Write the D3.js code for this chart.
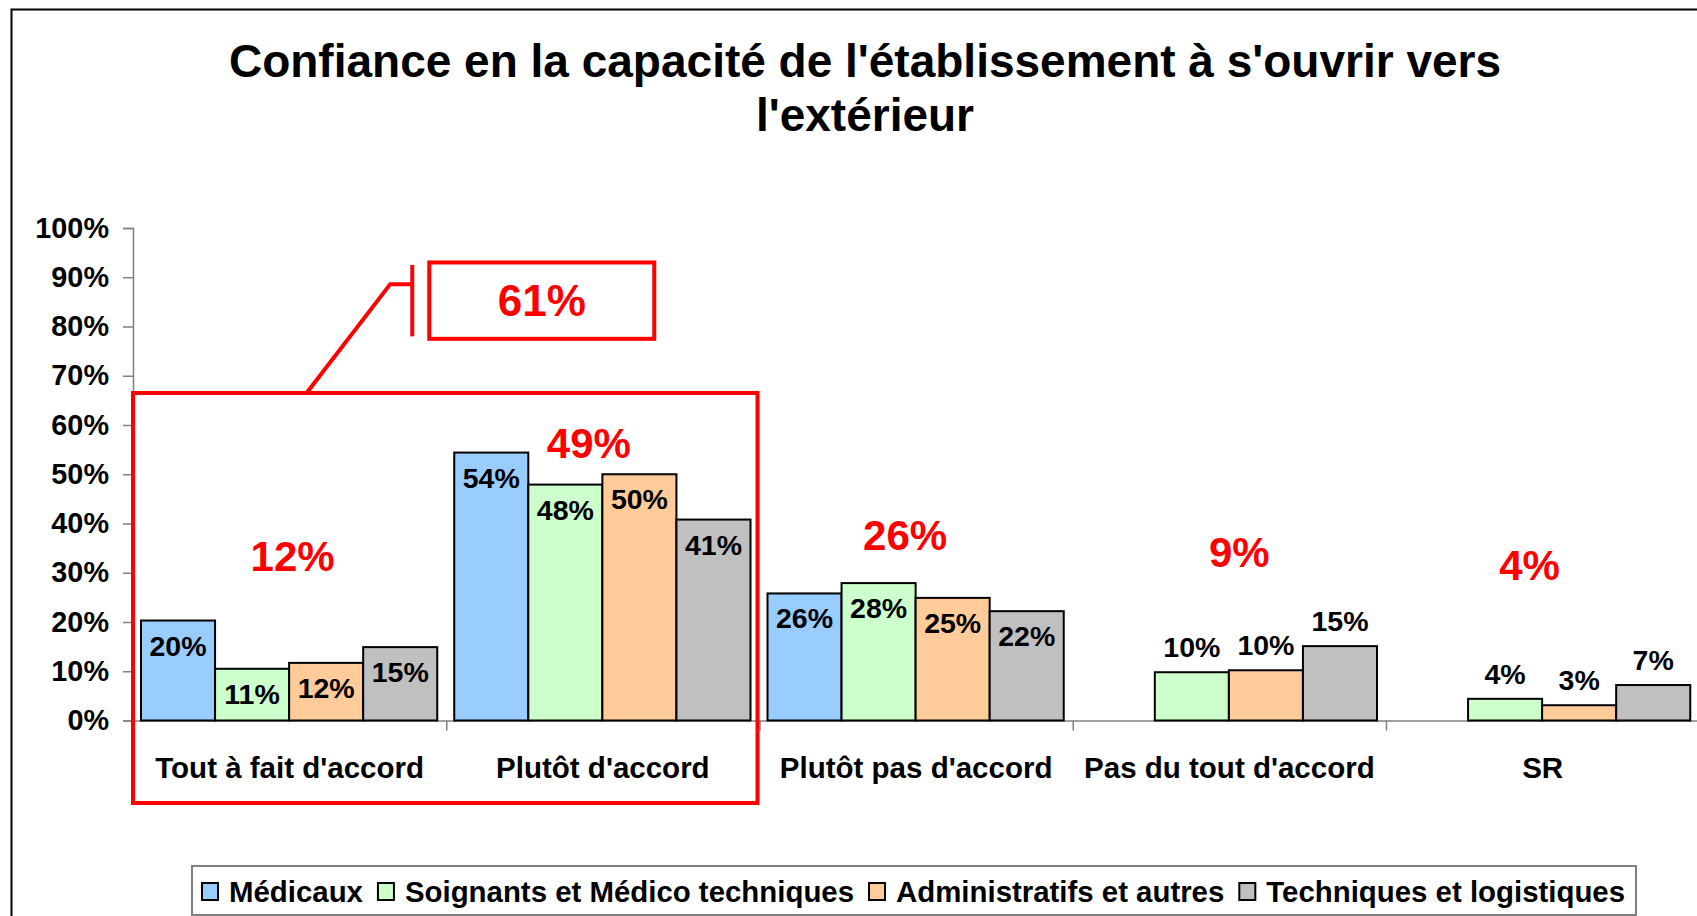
<!DOCTYPE html>
<html>
<head>
<meta charset="utf-8">
<script src="https://cdn.jsdelivr.net/npm/d3@7"></script>
<style>
  body { margin: 0; background: #fff; }
  text { font-family: "Liberation Sans", Arial, sans-serif; font-weight: bold; }
</style>
</head>
<body>
<svg id="chart" width="1697" height="916"></svg>
<script>
// data
const categories = ["Tout à fait d'accord", "Plutôt d'accord", "Plutôt pas d'accord", "Pas du tout d'accord", "SR"];
const seriesNames = ["Médicaux", "Soignants et Médico techniques", "Administratifs et autres", "Techniques et logistiques"];
const medicaux = [20.3, 54.4, 25.8, null, null];
const soignants = [10.5, 47.9, 27.9, 9.8, 4.4];
const administratifs = [11.7, 50.0, 24.9, 10.2, 3.1];
const techniques = [14.9, 40.8, 22.2, 15.1, 7.2];
const groupTotals = [12, 49, 26, 9, 4];
const groupTotalLevels = [33.4, 56.3, 37.7, 34.2, 31.6]; // where the red totals sit, in % units
const groupTotalShift = [3, -14, -11, 10, -13];           // px nudge from the group centre
const accordTotal = 61;
const yTicks = [0, 10, 20, 30, 40, 50, 60, 70, 80, 90, 100];

const colors = ["#99CCFF", "#CCFFCC", "#FFCC99", "#C0C0C0"];
const seriesValues = [medicaux, soignants, administratifs, techniques];

const svg = d3.select("#chart");

// outer frame
svg.append("rect")
  .attr("x", 11.5).attr("y", 9.5)
  .attr("width", 1720).attr("height", 940)
  .attr("fill", "none").attr("stroke", "#000").attr("stroke-width", 2);

// title
const title = svg.append("text")
  .attr("text-anchor", "middle")
  .attr("font-size", 46)
  .attr("fill", "#000");
title.append("tspan").attr("x", 865).attr("y", 77).text("Confiance en la capacité de l'établissement à s'ouvrir vers");
title.append("tspan").attr("x", 865).attr("y", 131).text("l'extérieur");

const left = 133, bandW = 313.25;
const x0 = d3.scaleBand()
  .domain(categories)
  .range([left, left + bandW * categories.length]);

const x1 = d3.scaleBand()
  .domain(seriesNames)
  .range([8, bandW - 9]);

const y = d3.scaleLinear()
  .domain([0, 100])
  .range([720.5, 228]);

// y axis
const yAxis = svg.append("g")
  .attr("transform", "translate(" + left + ",0)")
  .call(d3.axisLeft(y).tickValues(yTicks).tickFormat(d => d + "%").tickSize(10).tickPadding(14));
yAxis.select(".domain").attr("stroke", "#808080").attr("stroke-width", 1.5);
yAxis.selectAll(".tick line").attr("stroke", "#808080").attr("stroke-width", 1.5);
yAxis.selectAll("text")
  .attr("font-size", 28.8).attr("font-family", "Liberation Sans, Arial, sans-serif")
  .attr("font-weight", "bold").attr("fill", "#000");

// x axis: labels centred, ticks between categories
const xAxis = svg.append("g")
  .attr("transform", "translate(0," + y(0) + ")")
  .call(d3.axisBottom(x0).tickSize(0).tickPadding(36.5));
xAxis.select(".domain").remove();
xAxis.selectAll("text")
  .attr("font-size", 29.5).attr("font-family", "Liberation Sans, Arial, sans-serif")
  .attr("font-weight", "bold").attr("fill", "#000");

const xEdges = d3.scaleLinear().domain([0, categories.length]).range(x0.range());
const xTicks = svg.append("g")
  .attr("transform", "translate(0," + y(0) + ")")
  .call(d3.axisBottom(xEdges).tickValues(d3.range(0, categories.length + 1)).tickFormat("").tickSize(10).tickSizeOuter(0));
xTicks.select(".domain").attr("stroke", "#808080").attr("stroke-width", 1.5);
xTicks.selectAll(".tick line").attr("stroke", "#808080").attr("stroke-width", 1.5);

// bars
const rows = [];
categories.forEach((c, ci) => {
  seriesNames.forEach((s, si) => {
    const v = seriesValues[si][ci];
    if (v != null) rows.push({ cat: c, ci: ci, series: s, si: si, value: v });
  });
});

svg.append("g").selectAll("rect")
  .data(rows)
  .enter()
  .append("rect")
  .attr("x", d => x0(d.cat) + x1(d.series))
  .attr("y", d => y(d.value))
  .attr("width", x1.bandwidth())
  .attr("height", d => y(0) - y(d.value))
  .attr("fill", d => colors[d.si])
  .attr("stroke", "#000")
  .attr("stroke-width", 2);

// bar labels: inside the top for the first three groups, above for the others
svg.append("g").selectAll("text")
  .data(rows)
  .enter()
  .append("text")
  .attr("x", d => x0(d.cat) + x1(d.series) + x1.bandwidth() / 2)
  .attr("y", d => d.ci < 3 ? y(d.value) + 35 : y(d.value) - 15)
  .attr("text-anchor", "middle")
  .attr("font-size", 28.5)
  .attr("fill", "#000")
  .text(d => Math.round(d.value) + "%");

// red group totals
svg.append("g").selectAll("text")
  .data(groupTotals)
  .enter()
  .append("text")
  .attr("x", (d, i) => x0(categories[i]) + bandW / 2 + groupTotalShift[i])
  .attr("y", (d, i) => y(groupTotalLevels[i]))
  .attr("dy", "0.36em")
  .attr("text-anchor", "middle")
  .attr("font-size", 42)
  .attr("fill", "#FF0000")
  .text(d => d + "%");

// "accord" annotation
const red = "#FF0000";
const boxTop = y(66.5), boxBottom = y(0) + 82.5;
svg.append("rect")
  .attr("x", left).attr("y", boxTop)
  .attr("width", x0(categories[2]) - 2 - left)
  .attr("height", boxBottom - boxTop)
  .attr("fill", "none").attr("stroke", red).attr("stroke-width", 4);

const calloutLeft = x0(categories[1]) - 17;
svg.append("rect")
  .attr("x", calloutLeft).attr("y", y(93))
  .attr("width", 225).attr("height", y(77.5) - y(93))
  .attr("fill", "none").attr("stroke", red).attr("stroke-width", 4);
svg.append("text")
  .attr("x", calloutLeft + 112.5).attr("y", y(85.4))
  .attr("dy", "0.36em")
  .attr("text-anchor", "middle")
  .attr("font-size", 44)
  .attr("fill", red)
  .text(accordTotal + "%");

const bracketX = calloutLeft - 17;
svg.append("path")
  .attr("d", d3.line()([
    [x0(categories[0]) + bandW / 2 + 17, boxTop],
    [bracketX - 22, y(88.6)],
    [bracketX, y(88.6)]
  ]))
  .attr("fill", "none").attr("stroke", red).attr("stroke-width", 4);
svg.append("line")
  .attr("x1", bracketX).attr("x2", bracketX)
  .attr("y1", y(92.5)).attr("y2", y(78))
  .attr("stroke", red).attr("stroke-width", 4);

// legend
const legend = svg.append("g");
legend.append("rect")
  .attr("x", 192).attr("y", 866)
  .attr("width", 1444).attr("height", 49)
  .attr("fill", "#fff").attr("stroke", "#808080").attr("stroke-width", 2);

let lx = 202;
seriesNames.forEach((s, i) => {
  legend.append("rect")
    .attr("x", lx).attr("y", 883)
    .attr("width", 16).attr("height", 17)
    .attr("fill", colors[i]).attr("stroke", "#000").attr("stroke-width", 2);
  const t = legend.append("text")
    .attr("x", lx + 27).attr("y", 902)
    .attr("font-size", 29.4)
    .attr("fill", "#000")
    .text(s);
  lx += 27 + t.node().getComputedTextLength() + 15;
});
</script>
</body>
</html>
